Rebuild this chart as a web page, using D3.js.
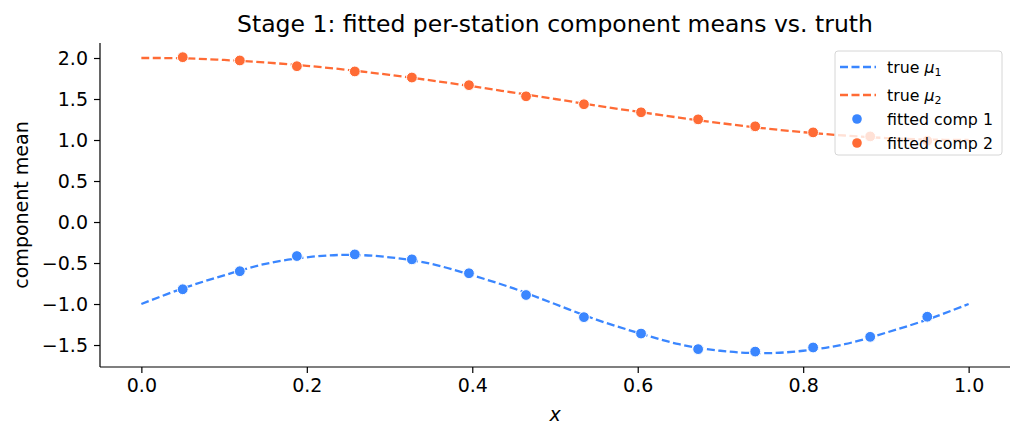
<!DOCTYPE html>
<html>
<head>
<meta charset="utf-8">
<script src="https://cdn.jsdelivr.net/npm/d3@7"></script>
<style>
  body { margin: 0; background: #fff; }
  text { font-family: "DejaVu Sans", sans-serif; }
</style>
</head>
<body>
<script>
// true curves
var true_x = [0, .05, .1, .15, .2, .25, .3, .35, .4, .45, .5, .55, .6, .65, .7, .75, .8, .85, .9, .95, 1]
var true_mu1 = [-1.00, -0.81, -0.65, -0.51, -0.43, -0.40, -0.43, -0.51, -0.65, -0.81, -1.00,
                -1.19, -1.35, -1.49, -1.57, -1.60, -1.57, -1.49, -1.35, -1.19, -1.00]
var true_mu2 = [2.00, 1.997, 1.976, 1.945, 1.905, 1.854, 1.794, 1.727, 1.655, 1.578, 1.50,
                1.42, 1.345, 1.273, 1.206, 1.146, 1.095, 1.055, 1.024, 1.006, 1.00]
// fitted per-station means
var station_x = [0.05, 0.119, 0.188, 0.258, 0.327, 0.396, 0.465, 0.535, 0.604, 0.673, 0.742, 0.812, 0.881, 0.95]
var fit_comp1 = [-0.82, -0.60, -0.415, -0.395, -0.455, -0.625, -0.89, -1.16, -1.36, -1.55, -1.58, -1.53, -1.40, -1.155]
var fit_comp2 = [2.01, 1.97, 1.90, 1.836, 1.762, 1.669, 1.533, 1.436, 1.338, 1.252, 1.167, 1.093, 1.044, 0.99]
var x_ticks = [0, 0.2, 0.4, 0.6, 0.8, 1.0]
var y_ticks = [-1.5, -1.0, -0.5, 0, 0.5, 1.0, 1.5, 2.0]

var blue = '#3a86ff', orange = '#ff6b35'
var W = 1023, H = 438
var m_left = 100, m_right = 1010, m_top = 43, m_bottom = 367

var svg = d3.select('body').append('svg').attr('width', W).attr('height', H)

var sx = d3.scaleLinear().domain([-0.05, 1.05]).range([m_left, m_right])
var sy = d3.scaleLinear().domain([-1.768, 2.183]).range([m_bottom, m_top])

// axes (only left + bottom spines, like the reference)
svg.append('g').attr('transform', 'translate(0,' + m_bottom + ')')
    .call(d3.axisBottom(sx).tickValues(x_ticks).tickFormat(d3.format('.1f')).tickSize(6).tickPadding(6))
svg.append('g').attr('transform', 'translate(' + m_left + ',0)')
    .call(d3.axisLeft(sy).tickValues(y_ticks).tickFormat(d => d3.format('.1f')(d).replace('-', '\u2212')).tickSize(6).tickPadding(6))
svg.selectAll('.domain').remove()
svg.append('line').attr('x1', m_left).attr('x2', m_right).attr('y1', m_bottom).attr('y2', m_bottom).attr('stroke', '#000').attr('stroke-width', 1.2)
svg.append('line').attr('x1', m_left).attr('x2', m_left).attr('y1', m_top).attr('y2', m_bottom).attr('stroke', '#000').attr('stroke-width', 1.2)
svg.selectAll('.tick text').attr('font-size', '19px').attr('fill', '#000').attr('font-family', 'DejaVu Sans')
svg.selectAll('.tick line').attr('stroke', '#000').attr('stroke-width', 1.2)

// lines
var line = d3.line().x(d => sx(d[0])).y(d => sy(d[1])).curve(d3.curveCatmullRom)
var plot = svg.append('g')
plot.append('path').datum(d3.zip(true_x, true_mu1)).attr('d', line)
    .attr('fill', 'none').attr('stroke', blue).attr('stroke-width', 2.3).attr('stroke-dasharray', '8,3.5')
plot.append('path').datum(d3.zip(true_x, true_mu2)).attr('d', line)
    .attr('fill', 'none').attr('stroke', orange).attr('stroke-width', 2.3).attr('stroke-dasharray', '8,3.5')

plot.selectAll('.p1').data(d3.zip(station_x, fit_comp1)).enter().append('circle')
    .attr('cx', d => sx(d[0])).attr('cy', d => sy(d[1])).attr('r', 5.4)
    .attr('fill', blue).attr('stroke', '#fff').attr('stroke-width', 1)
plot.selectAll('.p2').data(d3.zip(station_x, fit_comp2)).enter().append('circle')
    .attr('cx', d => sx(d[0])).attr('cy', d => sy(d[1])).attr('r', 5.4)
    .attr('fill', orange).attr('stroke', '#fff').attr('stroke-width', 1)

// labels
svg.append('text').attr('x', (m_left + m_right) / 2).attr('y', 32).attr('text-anchor', 'middle')
    .attr('font-size', '23.5px').text('Stage 1: fitted per-station component means vs. truth')
svg.append('text').attr('x', sx(0.5)).attr('y', 421).attr('text-anchor', 'middle')
    .attr('font-size', '19px').attr('font-style', 'italic').text('x')
svg.append('text').attr('transform', 'translate(28,' + ((m_top + m_bottom) / 2) + ') rotate(-90)')
    .attr('text-anchor', 'middle').attr('font-size', '19px').text('component mean')

// legend
var lg = svg.append('g').attr('transform', 'translate(835,51)')
lg.append('rect').attr('width', 167).attr('height', 104).attr('rx', 3)
    .attr('fill', '#fff').attr('fill-opacity', 0.8).attr('stroke', '#d6d6d6')
var items = [
  {label: 'true ', sub: '1', kind: 'line', color: blue},
  {label: 'true ', sub: '2', kind: 'line', color: orange},
  {label: 'fitted comp 1', kind: 'dot', color: blue},
  {label: 'fitted comp 2', kind: 'dot', color: orange}
]
var rowY = [16, 44, 68, 92]
items.forEach((it, i) => {
  var g = lg.append('g').attr('transform', 'translate(0,' + rowY[i] + ')')
  if (it.kind == 'line') {
    g.append('line').attr('x1', 5).attr('x2', 41).attr('y1', 0).attr('y2', 0)
      .attr('stroke', it.color).attr('stroke-width', 2.3).attr('stroke-dasharray', '8,3.5')
  } else {
    g.append('circle').attr('cx', 22).attr('cy', 0).attr('r', 4.8).attr('fill', it.color)
  }
  var t = g.append('text').attr('x', 52).attr('y', 5.5).attr('font-size', '15.8px')
  if (it.kind == 'line') {
    t.append('tspan').text(it.label)
    t.append('tspan').attr('font-style', 'italic').text('\u03bc')
    t.append('tspan').attr('font-size', '11px').attr('dy', 3).text(it.sub)
  } else {
    t.text(it.label)
  }
})
</script>
</body>
</html>
